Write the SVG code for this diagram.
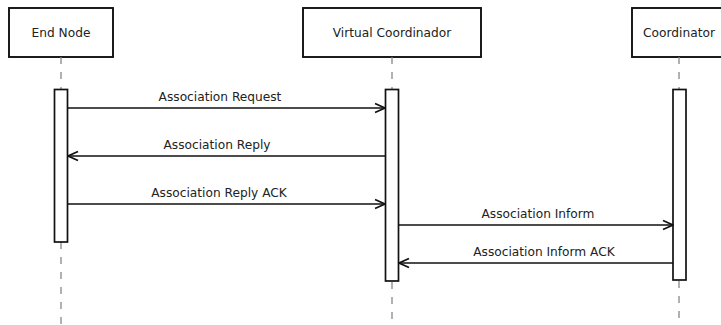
<svg xmlns="http://www.w3.org/2000/svg" width="721" height="325" viewBox="0 0 721 325">
<defs>
<style>
text{font-family:"DejaVu Sans","Liberation Sans",sans-serif;font-size:12.2px;fill:#222}
.box{fill:#fff;stroke:#111;stroke-width:1.9}
.act{fill:#fff;stroke:#111;stroke-width:1.7}
.life{stroke:#888;stroke-width:1.3;stroke-dasharray:7 8;fill:none}
.msg{stroke:#111;stroke-width:1.7;fill:none;marker-end:url(#arr)}
</style>
<marker id="arr" viewBox="0 0 12 12" refX="11" refY="6" markerWidth="12" markerHeight="12" markerUnits="userSpaceOnUse" orient="auto">
<path d="M1,1.5 L11,6 L1,10.5" fill="none" stroke="#111" stroke-width="1.7"/>
</marker>
</defs>
<rect width="721" height="325" fill="#fff"/>
<g id="endnode">
<rect class="box" x="9" y="8" width="104" height="49"/>
<text x="61" y="37" text-anchor="middle">End Node</text>
<line class="life" x1="61" y1="57" x2="61" y2="89"/>
<line class="life" x1="61" y1="242" x2="61" y2="325"/>
<rect class="act" x="54.5" y="89.5" width="13" height="152.5"/>
</g>
<g id="virtualcoordinador">
<rect class="box" x="303" y="8" width="178" height="49"/>
<text x="392" y="37" text-anchor="middle">Virtual Coordinador</text>
<line class="life" x1="392" y1="57" x2="392" y2="89"/>
<line class="life" x1="392" y1="282" x2="392" y2="325"/>
<rect class="act" x="385.5" y="89.5" width="13" height="191.5"/>
</g>
<g id="coordinator">
<rect class="box" x="632" y="8" width="94" height="49"/>
<text x="679" y="37" text-anchor="middle">Coordinator</text>
<line class="life" x1="679" y1="57" x2="679" y2="89"/>
<line class="life" x1="679" y1="281" x2="679" y2="325"/>
<rect class="act" x="673" y="89.5" width="13" height="190.5"/>
</g>
<g id="connectors">
<line class="msg" x1="68" y1="108" x2="385" y2="108"/>
<text x="220" y="101" text-anchor="middle">Association Request</text>
<line class="msg" x1="385" y1="156" x2="68" y2="156"/>
<text x="217" y="149" text-anchor="middle">Association Reply</text>
<line class="msg" x1="68" y1="204" x2="385" y2="204"/>
<text x="219" y="197" text-anchor="middle">Association Reply ACK</text>
<line class="msg" x1="399" y1="225" x2="673" y2="225"/>
<text x="538" y="218" text-anchor="middle">Association Inform</text>
<line class="msg" x1="673" y1="263" x2="399" y2="263"/>
<text x="544" y="256" text-anchor="middle">Association Inform ACK</text>
</g>
</svg>
